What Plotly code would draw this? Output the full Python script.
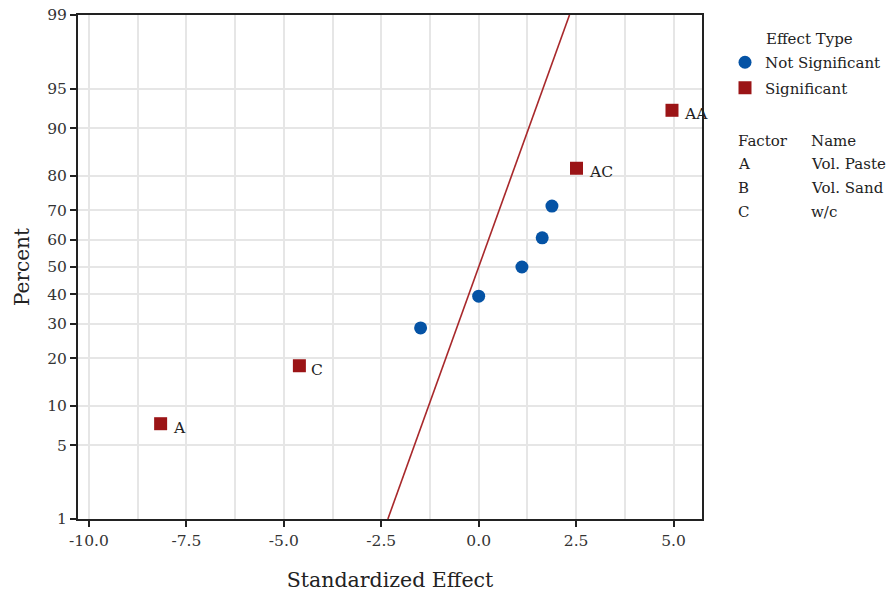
import math
import plotly.graph_objects as go

# Standardized effects of the model terms and their normal-plot percentages
terms = ["A", "C", "", "", "", "", "", "AC", "AA"]
effects = [-8.16, -4.60, -1.49, 0.0, 1.11, 1.63, 1.88, 2.51, 4.96]
percents = [7.4, 18.1, 28.7, 39.4, 50.0, 60.6, 71.3, 81.9, 92.6]
significant = [True, True, False, False, False, False, False, True, True]

# Reference line of the normal distribution (effect vs percent)
line_effects = [-2.33, 2.33]
line_percents = [1, 99]

# Axis ticks
x_ticks = [-10.0, -7.5, -5.0, -2.5, 0.0, 2.5, 5.0]
x_tick_text = ["-10.0", "-7.5", "-5.0", "-2.5", "0.0", "2.5", "5.0"]
y_ticks = [1, 5, 10, 20, 30, 40, 50, 60, 70, 80, 90, 95, 99]

# Factor key
factor_codes = ["A", "B", "C"]
factor_names = ["Vol. Paste", "Vol. Sand", "w/c"]


def probit(pct):
    """Inverse standard normal CDF of a percentage, by bisection on erf."""
    p = pct / 100.0
    lo, hi = -10.0, 10.0
    for _ in range(200):
        mid = (lo + hi) / 2
        if 0.5 * (1 + math.erf(mid / math.sqrt(2))) < p:
            lo = mid
        else:
            hi = mid
    return (lo + hi) / 2


FONT = "DejaVu Serif"
BLUE = "#0553A5"
RED = "#9B1416"
TXT = "#222222"

layout_w, layout_h = 891, 593
ml, mr, mt, mb = 78, 189, 15, 74
pw, ph = layout_w - ml - mr, layout_h - mt - mb


def px_to_paper(x, y):
    return (x - ml) / pw, 1 - (y - mt) / ph


fig = go.Figure()

fig.add_trace(go.Scatter(
    x=line_effects, y=[probit(p) for p in line_percents],
    mode="lines", line=dict(color="#A8282B", width=1.6),
    showlegend=False, hoverinfo="skip",
))

ns_x = [e for e, s in zip(effects, significant) if not s]
ns_y = [probit(p) for p, s in zip(percents, significant) if not s]
sg_x = [e for e, s in zip(effects, significant) if s]
sg_y = [probit(p) for p, s in zip(percents, significant) if s]

fig.add_trace(go.Scatter(
    x=ns_x, y=ns_y, mode="markers", name="Not Significant",
    legendgroup="ns",
    marker=dict(symbol="circle", size=13, color=BLUE),
))
fig.add_trace(go.Scatter(
    x=sg_x, y=sg_y, mode="markers", name="Significant",
    legendgroup="sg",
    marker=dict(symbol="square", size=13, color=RED),
))

# Term labels beside significant effects
for t, e, p in zip(terms, effects, percents):
    if t:
        fig.add_annotation(
            x=e, y=probit(p), text=t, showarrow=False,
            xanchor="left", xshift=10, yshift=-4,
            font=dict(family=FONT, size=15.5, color=TXT),
        )

# Legend heading
hx, hy = px_to_paper(764, 39)
fig.add_annotation(
    x=hx, y=hy, xref="paper", yref="paper", text="Effect Type",
    showarrow=False, xanchor="left", yanchor="middle",
    font=dict(family=FONT, size=15, color=TXT),
)

# Factor key table
rows = [("Factor", "Name")] + list(zip(factor_codes, factor_names))
row_y = [141, 164, 188, 212]
for (code, name), ry in zip(rows, row_y):
    for col_x, txt in ((736, code), (809, name)):
        ax, ay = px_to_paper(col_x, ry)
        fig.add_annotation(
            x=ax, y=ay, xref="paper", yref="paper", text=txt,
            showarrow=False, xanchor="left", yanchor="middle",
            font=dict(family=FONT, size=15, color=TXT),
        )

lx, ly = px_to_paper(725, 46)

fig.update_layout(
    width=layout_w, height=layout_h,
    margin=dict(l=ml, r=mr, t=mt, b=mb, autoexpand=False),
    plot_bgcolor="white", paper_bgcolor="white",
    font=dict(family=FONT, size=15, color="#333333"),
    legend=dict(
        x=lx, y=ly, xanchor="left", yanchor="top",
        font=dict(family=FONT, size=15, color=TXT),
        traceorder="grouped", tracegroupgap=3,
        bgcolor="rgba(0,0,0,0)",
    ),
    xaxis=dict(
        range=[-10.28, 5.73],
        tickvals=x_ticks, ticktext=x_tick_text,
        ticks="outside", ticklen=6, tickwidth=1.5, tickcolor=TXT,
        showline=True, linecolor=TXT, linewidth=2, mirror=True,
        showgrid=True, gridcolor="#E6E6E6", gridwidth=2,
        minor=dict(dtick=1.25, tick0=0, showgrid=True,
                   gridcolor="#E6E6E6", gridwidth=2, ticks=""),
        zeroline=False,
        tickfont=dict(family=FONT, size=15.5, color="#333333"),
        title=dict(text="Standardized Effect", standoff=24,
                   font=dict(family=FONT, size=20.5, color=TXT)),
    ),
    yaxis=dict(
        range=[probit(1), probit(99)],
        tickvals=[probit(v) for v in y_ticks],
        ticktext=[str(v) for v in y_ticks],
        ticks="outside", ticklen=6, tickwidth=1.5, tickcolor=TXT,
        showline=True, linecolor=TXT, linewidth=2, mirror=True,
        showgrid=True, gridcolor="#E6E6E6", gridwidth=2,
        zeroline=False,
        tickfont=dict(family=FONT, size=15.5, color="#333333"),
        title=dict(text="Percent", standoff=12,
                   font=dict(family=FONT, size=20, color=TXT)),
    ),
)

fig.write_html("out.html")
